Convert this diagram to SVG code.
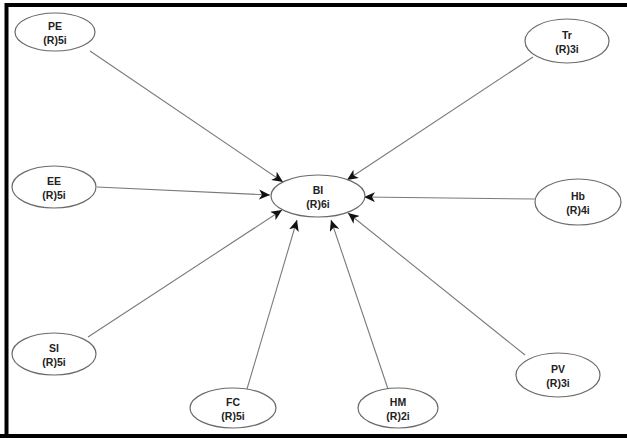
<svg xmlns="http://www.w3.org/2000/svg" width="627" height="438" viewBox="0 0 627 438">
<style>
.n ellipse{fill:#fff;stroke:#6a6a6a;stroke-width:1.2}
.n text{font-family:"Liberation Sans",Arial,sans-serif;font-weight:bold;font-size:10.5px;fill:#222;text-anchor:middle}
.c line{stroke:#7a7a7a;stroke-width:1.1;marker-end:url(#ah)}
</style>
<defs>
<marker id="ah" markerUnits="userSpaceOnUse" markerWidth="12" markerHeight="10" refX="11" refY="5" orient="auto">
<path d="M0,0 L11,5 L0,10 L3,5 Z" fill="#111"/>
</marker>
</defs>
<rect x="0" y="0" width="627" height="438" fill="#fff"/>
<path d="M6.5,438 V5 H627 M0,436 H627" fill="none" stroke="#000" stroke-width="4"/>
<g class="c">
<line x1="90" y1="51" x2="283" y2="182"/>
<line x1="533" y1="57" x2="347" y2="180"/>
<line x1="97" y1="187" x2="270" y2="195"/>
<line x1="535" y1="199" x2="364" y2="197"/>
<line x1="88" y1="337" x2="282" y2="210"/>
<line x1="247" y1="389" x2="297" y2="220"/>
<line x1="388" y1="389" x2="331" y2="220"/>
<line x1="525" y1="355" x2="348" y2="213"/>
</g>
<g class="n" id="PE"><ellipse cx="55" cy="32" rx="40" ry="19"/><text x="55" y="30">PE</text><text x="55" y="44">(R)5i</text></g>
<g class="n" id="Tr"><ellipse cx="567" cy="41" rx="42" ry="22"/><text x="567" y="39">Tr</text><text x="567" y="53">(R)3i</text></g>
<g class="n" id="EE"><ellipse cx="54" cy="187" rx="42" ry="21"/><text x="54" y="185">EE</text><text x="54" y="199">(R)5i</text></g>
<g class="n" id="BI"><ellipse cx="318" cy="196" rx="47" ry="21"/><text x="318" y="194">BI</text><text x="318" y="208">(R)6i</text></g>
<g class="n" id="Hb"><ellipse cx="578" cy="202" rx="43" ry="23"/><text x="578" y="200">Hb</text><text x="578" y="214">(R)4i</text></g>
<g class="n" id="SI"><ellipse cx="54" cy="354" rx="42" ry="21"/><text x="54" y="352">SI</text><text x="54" y="366">(R)5i</text></g>
<g class="n" id="FC"><ellipse cx="233" cy="408" rx="43" ry="20"/><text x="233" y="406">FC</text><text x="233" y="420">(R)5i</text></g>
<g class="n" id="HM"><ellipse cx="398" cy="408" rx="40" ry="20"/><text x="398" y="406">HM</text><text x="398" y="420">(R)2i</text></g>
<g class="n" id="PV"><ellipse cx="558" cy="375" rx="42" ry="22"/><text x="558" y="373">PV</text><text x="558" y="387">(R)3i</text></g>
</svg>
